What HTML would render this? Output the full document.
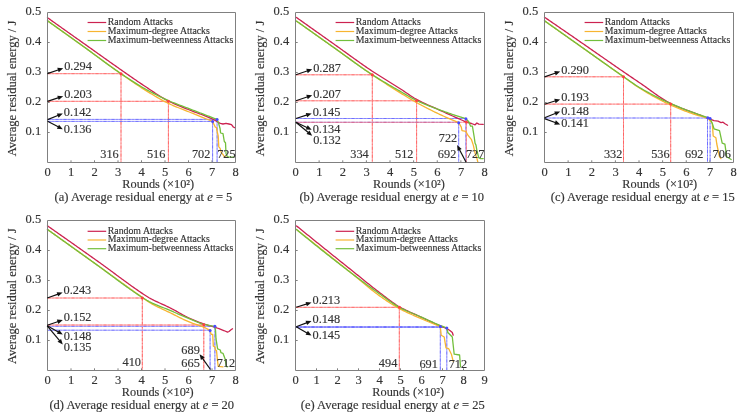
<!DOCTYPE html><html><head><meta charset="utf-8"><style>html,body{margin:0;padding:0;background:#fff;overflow:hidden}svg{display:block;will-change:transform}</style></head><body>
<svg width="741" height="416" viewBox="0 0 741 416" font-family="Liberation Serif, serif" fill="#333333" stroke-linejoin="round">
<style>text{stroke:#333;stroke-width:0.15px}</style>
<rect width="741" height="416" fill="#fff"/>
<line x1="47.50" y1="73.70" x2="121.00" y2="73.70" stroke="#ff8a8a" stroke-width="1"/>
<line x1="47.50" y1="73.70" x2="121.00" y2="73.70" stroke="#ff4040" stroke-width="1" stroke-dasharray="3 2 1 2" opacity="0.5"/>
<line x1="121.00" y1="73.70" x2="121.00" y2="162.50" stroke="#ff8a8a" stroke-width="1"/>
<line x1="121.00" y1="73.70" x2="121.00" y2="162.50" stroke="#ff4040" stroke-width="1" stroke-dasharray="3 2 1 2" opacity="0.5"/>
<line x1="47.50" y1="101.30" x2="168.40" y2="101.30" stroke="#ff8a8a" stroke-width="1"/>
<line x1="47.50" y1="101.30" x2="168.40" y2="101.30" stroke="#ff4040" stroke-width="1" stroke-dasharray="3 2 1 2" opacity="0.5"/>
<line x1="168.40" y1="101.30" x2="168.40" y2="162.50" stroke="#ff8a8a" stroke-width="1"/>
<line x1="168.40" y1="101.30" x2="168.40" y2="162.50" stroke="#ff4040" stroke-width="1" stroke-dasharray="3 2 1 2" opacity="0.5"/>
<line x1="47.50" y1="119.40" x2="217.10" y2="119.40" stroke="#9a9aff" stroke-width="1"/>
<line x1="47.50" y1="119.40" x2="217.10" y2="119.40" stroke="#4848ff" stroke-width="1" stroke-dasharray="3 2 1 2" opacity="0.5"/>
<line x1="217.10" y1="119.40" x2="217.10" y2="162.50" stroke="#9a9aff" stroke-width="1"/>
<line x1="217.10" y1="119.40" x2="217.10" y2="162.50" stroke="#4848ff" stroke-width="1" stroke-dasharray="3 2 1 2" opacity="0.5"/>
<line x1="47.50" y1="121.40" x2="212.60" y2="121.40" stroke="#9a9aff" stroke-width="1"/>
<line x1="47.50" y1="121.40" x2="212.60" y2="121.40" stroke="#4848ff" stroke-width="1" stroke-dasharray="3 2 1 2" opacity="0.5"/>
<line x1="212.60" y1="121.40" x2="212.60" y2="162.50" stroke="#9a9aff" stroke-width="1"/>
<line x1="212.60" y1="121.40" x2="212.60" y2="162.50" stroke="#4848ff" stroke-width="1" stroke-dasharray="3 2 1 2" opacity="0.5"/>
<path d="M47.50,17.70 L48.70,18.55 L49.90,19.40 L51.09,20.25 L52.29,21.10 L53.49,21.96 L54.69,22.81 L55.89,23.66 L57.08,24.51 L58.28,25.36 L59.48,26.21 L60.68,27.06 L61.87,27.91 L63.07,28.76 L64.27,29.61 L65.47,30.46 L66.67,31.31 L67.86,32.16 L69.06,33.01 L70.26,33.86 L71.46,34.71 L72.66,35.56 L73.85,36.41 L75.05,37.26 L76.25,38.11 L77.45,38.96 L78.65,39.81 L79.84,40.65 L81.04,41.50 L82.24,42.35 L83.44,43.20 L84.63,44.05 L85.83,44.90 L87.03,45.75 L88.23,46.60 L89.43,47.45 L90.62,48.30 L91.82,49.15 L93.02,50.01 L94.22,50.86 L95.42,51.71 L96.61,52.56 L97.81,53.42 L99.01,54.27 L100.21,55.12 L101.41,55.97 L102.60,56.82 L103.80,57.67 L105.00,58.53 L106.20,59.38 L107.40,60.23 L108.59,61.07 L109.79,61.92 L110.99,62.77 L112.19,63.62 L113.38,64.46 L114.58,65.31 L115.78,66.15 L116.98,66.99 L118.18,67.83 L119.37,68.67 L120.57,69.51 L121.77,70.35 L122.97,71.19 L124.17,72.02 L125.36,72.85 L126.56,73.69 L127.76,74.52 L128.96,75.35 L130.16,76.19 L131.35,77.02 L132.55,77.85 L133.75,78.68 L134.95,79.51 L136.14,80.33 L137.34,81.16 L138.54,81.97 L139.74,82.79 L140.94,83.60 L142.13,84.40 L143.33,85.20 L144.53,85.99 L145.73,86.78 L146.93,87.57 L148.12,88.37 L149.32,89.17 L150.52,89.98 L151.72,90.78 L152.92,91.59 L154.11,92.38 L155.31,93.18 L156.51,93.96 L157.71,94.74 L158.90,95.51 L160.10,96.26 L161.30,97.00 L162.50,97.73 L163.70,98.43 L164.89,99.12 L166.09,99.78 L167.29,100.43 L168.49,101.04 L169.69,101.64 L170.88,102.22 L172.08,102.78 L173.28,103.33 L174.48,103.86 L175.68,104.39 L176.87,104.90 L178.07,105.40 L179.27,105.89 L180.47,106.38 L181.67,106.87 L182.86,107.35 L184.06,107.82 L185.26,108.30 L186.46,108.77 L187.65,109.25 L188.85,109.73 L190.05,110.22 L191.25,110.70 L192.45,111.17 L193.64,111.62 L194.84,112.07 L196.04,112.51 L197.24,112.95 L198.44,113.38 L199.63,113.82 L200.83,114.25 L202.03,114.69 L203.23,115.14 L204.43,115.59 L205.62,116.06 L206.82,116.54 L208.02,117.03 L209.22,117.54 L210.41,118.07 L211.61,118.62 L212.81,119.20 L214.01,119.82 L215.21,120.48 L216.40,121.18 L217.60,121.88 L218.80,122.60 L220.30,123.40 L223.00,124.00 L226.00,123.40 L229.00,124.00 L231.50,124.60 L233.30,127.00 L234.50,127.60" fill="none" stroke="#cc2250" stroke-width="1.3" stroke-linejoin="round" stroke-linecap="round"/>
<path d="M47.50,20.80 L48.70,21.65 L49.89,22.50 L51.09,23.35 L52.29,24.20 L53.48,25.05 L54.68,25.91 L55.87,26.76 L57.07,27.61 L58.27,28.46 L59.46,29.32 L60.66,30.17 L61.86,31.03 L63.05,31.88 L64.25,32.74 L65.45,33.59 L66.64,34.45 L67.84,35.30 L69.03,36.16 L70.23,37.01 L71.43,37.87 L72.62,38.73 L73.82,39.59 L75.02,40.45 L76.21,41.30 L77.41,42.16 L78.61,43.02 L79.80,43.88 L81.00,44.74 L82.19,45.60 L83.39,46.46 L84.59,47.32 L85.78,48.19 L86.98,49.05 L88.18,49.92 L89.37,50.79 L90.57,51.66 L91.77,52.53 L92.96,53.41 L94.16,54.28 L95.36,55.16 L96.55,56.04 L97.75,56.91 L98.94,57.79 L100.14,58.67 L101.34,59.54 L102.53,60.42 L103.73,61.29 L104.93,62.17 L106.12,63.04 L107.32,63.91 L108.52,64.78 L109.71,65.65 L110.91,66.51 L112.10,67.38 L113.30,68.24 L114.50,69.10 L115.69,69.95 L116.89,70.80 L118.09,71.65 L119.28,72.49 L120.48,73.34 L121.68,74.17 L122.87,75.01 L124.07,75.85 L125.26,76.69 L126.46,77.53 L127.66,78.37 L128.85,79.21 L130.05,80.04 L131.25,80.87 L132.44,81.70 L133.64,82.52 L134.84,83.34 L136.03,84.16 L137.23,84.96 L138.42,85.76 L139.62,86.55 L140.82,87.34 L142.01,88.11 L143.21,88.88 L144.41,89.63 L145.60,90.37 L146.80,91.12 L148.00,91.86 L149.19,92.60 L150.39,93.33 L151.58,94.06 L152.78,94.79 L153.98,95.51 L155.17,96.22 L156.37,96.93 L157.57,97.62 L158.76,98.31 L159.96,98.99 L161.16,99.65 L162.35,100.31 L163.55,100.95 L164.74,101.58 L165.94,102.19 L167.14,102.79 L168.33,103.37 L169.53,103.93 L170.73,104.48 L171.92,105.02 L173.12,105.54 L174.32,106.05 L175.51,106.55 L176.71,107.04 L177.91,107.52 L179.10,108.00 L180.30,108.48 L181.49,108.94 L182.69,109.41 L183.89,109.88 L185.08,110.35 L186.28,110.81 L187.48,111.29 L188.67,111.76 L189.87,112.25 L191.07,112.73 L192.26,113.22 L193.46,113.71 L194.65,114.19 L195.85,114.68 L197.05,115.16 L198.24,115.64 L199.44,116.13 L200.64,116.61 L201.83,117.09 L203.03,117.57 L204.23,118.05 L205.42,118.53 L206.62,119.01 L207.81,119.49 L209.01,119.97 L210.21,120.45 L211.40,120.92 L212.60,121.40 L215.20,127.00 L216.40,127.60 L217.00,130.60 L218.20,136.00 L218.80,146.90 L220.00,148.10 L221.20,152.30 L223.00,154.70 L224.30,156.50 L226.00,157.10" fill="none" stroke="#f7b531" stroke-width="1.3" stroke-linejoin="round" stroke-linecap="round"/>
<path d="M47.50,20.80 L48.69,21.65 L49.89,22.50 L51.08,23.35 L52.28,24.20 L53.47,25.05 L54.67,25.90 L55.86,26.75 L57.05,27.60 L58.25,28.45 L59.44,29.30 L60.64,30.16 L61.83,31.01 L63.03,31.86 L64.22,32.72 L65.42,33.57 L66.61,34.42 L67.80,35.28 L69.00,36.13 L70.19,36.99 L71.39,37.84 L72.58,38.70 L73.78,39.56 L74.97,40.41 L76.16,41.27 L77.36,42.13 L78.55,42.98 L79.75,43.84 L80.94,44.70 L82.14,45.56 L83.33,46.42 L84.53,47.28 L85.72,48.14 L86.91,49.01 L88.11,49.88 L89.30,50.76 L90.50,51.64 L91.69,52.52 L92.89,53.40 L94.08,54.28 L95.27,55.17 L96.47,56.06 L97.66,56.94 L98.86,57.83 L100.05,58.72 L101.25,59.60 L102.44,60.49 L103.64,61.37 L104.83,62.25 L106.02,63.12 L107.22,64.00 L108.41,64.87 L109.61,65.73 L110.80,66.59 L112.00,67.45 L113.19,68.30 L114.38,69.15 L115.58,69.98 L116.77,70.82 L117.97,71.64 L119.16,72.46 L120.36,73.27 L121.55,74.07 L122.75,74.87 L123.94,75.66 L125.13,76.46 L126.33,77.25 L127.52,78.04 L128.72,78.82 L129.91,79.60 L131.11,80.37 L132.30,81.13 L133.49,81.90 L134.69,82.65 L135.88,83.40 L137.08,84.13 L138.27,84.86 L139.47,85.59 L140.66,86.30 L141.85,87.00 L143.05,87.69 L144.24,88.37 L145.44,89.04 L146.63,89.71 L147.83,90.37 L149.02,91.02 L150.22,91.66 L151.41,92.30 L152.60,92.94 L153.80,93.56 L154.99,94.18 L156.19,94.79 L157.38,95.40 L158.58,96.00 L159.77,96.59 L160.96,97.17 L162.16,97.74 L163.35,98.31 L164.55,98.86 L165.74,99.41 L166.94,99.95 L168.13,100.48 L169.33,101.00 L170.52,101.51 L171.71,102.01 L172.91,102.49 L174.10,102.97 L175.30,103.44 L176.49,103.91 L177.69,104.37 L178.88,104.82 L180.07,105.27 L181.27,105.72 L182.46,106.16 L183.66,106.61 L184.85,107.05 L186.05,107.50 L187.24,107.95 L188.44,108.40 L189.63,108.86 L190.82,109.32 L192.02,109.78 L193.21,110.24 L194.41,110.70 L195.60,111.16 L196.80,111.62 L197.99,112.08 L199.18,112.54 L200.38,113.00 L201.57,113.46 L202.77,113.92 L203.96,114.38 L205.16,114.83 L206.35,115.29 L207.55,115.75 L208.74,116.21 L209.93,116.66 L211.13,117.12 L212.32,117.58 L213.52,118.03 L214.71,118.49 L215.91,118.94 L217.10,119.40 L218.80,124.00 L220.00,128.20 L220.60,133.00 L223.00,133.70 L224.30,141.50 L225.50,142.70 L226.00,153.50 L227.30,156.50 L229.00,157.10 L233.90,157.10" fill="none" stroke="#72bf3c" stroke-width="1.3" stroke-linejoin="round" stroke-linecap="round"/>
<circle cx="121.00" cy="73.70" r="1.5" fill="#ff4040"/>
<circle cx="168.40" cy="101.30" r="1.5" fill="#ff4040"/>
<circle cx="212.60" cy="121.40" r="1.5" fill="#4848ff"/>
<circle cx="217.10" cy="119.40" r="1.5" fill="#4848ff"/>
<rect x="47.50" y="12.50" width="188.00" height="150.00" fill="none" stroke="#808080" stroke-width="1"/>
<line x1="71.00" y1="162.50" x2="71.00" y2="160.30" stroke="#808080" stroke-width="1"/>
<line x1="94.50" y1="162.50" x2="94.50" y2="160.30" stroke="#808080" stroke-width="1"/>
<line x1="118.00" y1="162.50" x2="118.00" y2="160.30" stroke="#808080" stroke-width="1"/>
<line x1="141.50" y1="162.50" x2="141.50" y2="160.30" stroke="#808080" stroke-width="1"/>
<line x1="165.00" y1="162.50" x2="165.00" y2="160.30" stroke="#808080" stroke-width="1"/>
<line x1="188.50" y1="162.50" x2="188.50" y2="160.30" stroke="#808080" stroke-width="1"/>
<line x1="212.00" y1="162.50" x2="212.00" y2="160.30" stroke="#808080" stroke-width="1"/>
<line x1="47.50" y1="132.50" x2="49.70" y2="132.50" stroke="#808080" stroke-width="1"/>
<line x1="47.50" y1="102.50" x2="49.70" y2="102.50" stroke="#808080" stroke-width="1"/>
<line x1="47.50" y1="72.50" x2="49.70" y2="72.50" stroke="#808080" stroke-width="1"/>
<line x1="47.50" y1="42.50" x2="49.70" y2="42.50" stroke="#808080" stroke-width="1"/>
<text x="47.70" y="175.50" text-anchor="middle" font-size="12.5">0</text>
<text x="71.20" y="175.50" text-anchor="middle" font-size="12.5">1</text>
<text x="94.70" y="175.50" text-anchor="middle" font-size="12.5">2</text>
<text x="118.20" y="175.50" text-anchor="middle" font-size="12.5">3</text>
<text x="141.70" y="175.50" text-anchor="middle" font-size="12.5">4</text>
<text x="165.20" y="175.50" text-anchor="middle" font-size="12.5">5</text>
<text x="188.70" y="175.50" text-anchor="middle" font-size="12.5">6</text>
<text x="212.20" y="175.50" text-anchor="middle" font-size="12.5">7</text>
<text x="235.70" y="175.50" text-anchor="middle" font-size="12.5">8</text>
<text x="41.20" y="134.50" text-anchor="end" font-size="12.5">0.1</text>
<text x="41.20" y="104.50" text-anchor="end" font-size="12.5">0.2</text>
<text x="41.20" y="74.50" text-anchor="end" font-size="12.5">0.3</text>
<text x="41.20" y="44.50" text-anchor="end" font-size="12.5">0.4</text>
<text x="41.20" y="14.50" text-anchor="end" font-size="12.5">0.5</text>
<line x1="87.60" y1="22.50" x2="106.20" y2="22.50" stroke="#cc2250" stroke-width="1.2"/>
<text x="107.80" y="24.90" font-size="9.8">Random Attacks</text>
<line x1="87.60" y1="31.50" x2="106.20" y2="31.50" stroke="#f7b531" stroke-width="1.2"/>
<text x="107.80" y="33.90" font-size="9.8">Maximum-degree Attacks</text>
<line x1="87.60" y1="40.50" x2="106.20" y2="40.50" stroke="#72bf3c" stroke-width="1.2"/>
<text x="107.80" y="42.90" font-size="9.8">Maximum-betweenness Attacks</text>
<line x1="47.40" y1="73.60" x2="58.75" y2="69.72" stroke="#111" stroke-width="1.2"/>
<polygon points="63.20,68.20 58.74,72.16 57.25,67.80" fill="#111"/>
<text x="64.20" y="70.30" text-anchor="start" font-size="12.3">0.294</text>
<line x1="47.40" y1="101.40" x2="58.74" y2="97.67" stroke="#111" stroke-width="1.2"/>
<polygon points="63.20,96.20 58.69,100.10 57.26,95.73" fill="#111"/>
<text x="64.20" y="97.60" text-anchor="start" font-size="12.3">0.203</text>
<line x1="47.60" y1="119.60" x2="58.44" y2="115.25" stroke="#111" stroke-width="1.2"/>
<polygon points="62.80,113.50 58.55,117.68 56.84,113.41" fill="#111"/>
<text x="63.80" y="115.60" text-anchor="start" font-size="12.3">0.142</text>
<line x1="47.60" y1="121.20" x2="58.65" y2="127.09" stroke="#111" stroke-width="1.2"/>
<polygon points="62.80,129.30 56.86,128.74 59.03,124.68" fill="#111"/>
<text x="63.80" y="133.40" text-anchor="start" font-size="12.3">0.136</text>
<text x="118.70" y="157.80" text-anchor="end" font-size="12.3">316</text>
<text x="165.40" y="157.80" text-anchor="end" font-size="12.3">516</text>
<text x="210.40" y="157.80" text-anchor="end" font-size="12.3">702</text>
<text x="217.20" y="157.80" text-anchor="start" font-size="12.3">725</text>
<text transform="translate(16.30,88.50) rotate(-90)" text-anchor="middle" font-size="12.5">Average residual energy / J</text>
<text x="122.30" y="187.50" font-size="12.3">Rounds (×10²)</text>
<text x="54.60" y="201.00" font-size="12.5">(a) Average residual energy at <tspan font-style="italic">e</tspan> = 5</text>
<line x1="295.50" y1="74.80" x2="372.30" y2="74.80" stroke="#ff8a8a" stroke-width="1"/>
<line x1="295.50" y1="74.80" x2="372.30" y2="74.80" stroke="#ff4040" stroke-width="1" stroke-dasharray="3 2 1 2" opacity="0.5"/>
<line x1="372.30" y1="74.80" x2="372.30" y2="162.50" stroke="#ff8a8a" stroke-width="1"/>
<line x1="372.30" y1="74.80" x2="372.30" y2="162.50" stroke="#ff4040" stroke-width="1" stroke-dasharray="3 2 1 2" opacity="0.5"/>
<line x1="295.50" y1="100.80" x2="416.60" y2="100.80" stroke="#ff8a8a" stroke-width="1"/>
<line x1="295.50" y1="100.80" x2="416.60" y2="100.80" stroke="#ff4040" stroke-width="1" stroke-dasharray="3 2 1 2" opacity="0.5"/>
<line x1="416.60" y1="100.80" x2="416.60" y2="162.50" stroke="#ff8a8a" stroke-width="1"/>
<line x1="416.60" y1="100.80" x2="416.60" y2="162.50" stroke="#ff4040" stroke-width="1" stroke-dasharray="3 2 1 2" opacity="0.5"/>
<line x1="295.50" y1="118.50" x2="465.90" y2="118.50" stroke="#9a9aff" stroke-width="1"/>
<line x1="295.50" y1="118.50" x2="465.90" y2="118.50" stroke="#4848ff" stroke-width="1" stroke-dasharray="3 2 1 2" opacity="0.5"/>
<line x1="465.90" y1="118.50" x2="465.90" y2="162.50" stroke="#9a9aff" stroke-width="1"/>
<line x1="465.90" y1="118.50" x2="465.90" y2="162.50" stroke="#4848ff" stroke-width="1" stroke-dasharray="3 2 1 2" opacity="0.5"/>
<line x1="295.50" y1="122.30" x2="458.70" y2="122.30" stroke="#9a9aff" stroke-width="1"/>
<line x1="295.50" y1="122.30" x2="458.70" y2="122.30" stroke="#4848ff" stroke-width="1" stroke-dasharray="3 2 1 2" opacity="0.5"/>
<line x1="458.70" y1="122.30" x2="458.70" y2="162.50" stroke="#9a9aff" stroke-width="1"/>
<line x1="458.70" y1="122.30" x2="458.70" y2="162.50" stroke="#4848ff" stroke-width="1" stroke-dasharray="3 2 1 2" opacity="0.5"/>
<g opacity="0.75">
<line x1="295.50" y1="122.30" x2="466.40" y2="122.30" stroke="#ff8a8a" stroke-width="1"/>
<line x1="295.50" y1="122.30" x2="466.40" y2="122.30" stroke="#ff4040" stroke-width="1" stroke-dasharray="3 2 1 2" opacity="0.5"/>
<line x1="466.40" y1="122.30" x2="466.40" y2="162.50" stroke="#ff8a8a" stroke-width="1"/>
<line x1="466.40" y1="122.30" x2="466.40" y2="162.50" stroke="#ff4040" stroke-width="1" stroke-dasharray="3 2 1 2" opacity="0.5"/>
</g>
<path d="M296.50,17.50 L297.70,18.35 L298.89,19.20 L300.09,20.05 L301.29,20.90 L302.48,21.75 L303.68,22.60 L304.88,23.45 L306.07,24.30 L307.27,25.15 L308.46,26.00 L309.66,26.85 L310.86,27.70 L312.05,28.55 L313.25,29.40 L314.45,30.25 L315.64,31.10 L316.84,31.95 L318.04,32.80 L319.23,33.65 L320.43,34.50 L321.63,35.34 L322.82,36.19 L324.02,37.04 L325.22,37.89 L326.41,38.74 L327.61,39.59 L328.80,40.44 L330.00,41.28 L331.20,42.13 L332.39,42.98 L333.59,43.83 L334.79,44.67 L335.98,45.52 L337.18,46.38 L338.38,47.23 L339.57,48.09 L340.77,48.95 L341.97,49.81 L343.16,50.67 L344.36,51.53 L345.56,52.40 L346.75,53.26 L347.95,54.12 L349.15,54.99 L350.34,55.85 L351.54,56.71 L352.73,57.57 L353.93,58.43 L355.13,59.29 L356.32,60.14 L357.52,60.99 L358.72,61.84 L359.91,62.69 L361.11,63.53 L362.31,64.37 L363.50,65.21 L364.70,66.04 L365.90,66.87 L367.09,67.69 L368.29,68.50 L369.49,69.32 L370.68,70.12 L371.88,70.92 L373.07,71.71 L374.27,72.50 L375.47,73.27 L376.66,74.04 L377.86,74.81 L379.06,75.57 L380.25,76.32 L381.45,77.07 L382.65,77.81 L383.84,78.56 L385.04,79.30 L386.24,80.03 L387.43,80.77 L388.63,81.51 L389.83,82.24 L391.02,82.98 L392.22,83.72 L393.41,84.46 L394.61,85.20 L395.81,85.95 L397.00,86.70 L398.20,87.45 L399.40,88.21 L400.59,88.98 L401.79,89.77 L402.99,90.57 L404.18,91.38 L405.38,92.20 L406.58,93.01 L407.77,93.83 L408.97,94.64 L410.17,95.45 L411.36,96.23 L412.56,97.00 L413.75,97.75 L414.95,98.46 L416.15,99.15 L417.34,99.80 L418.54,100.44 L419.74,101.06 L420.93,101.66 L422.13,102.25 L423.33,102.83 L424.52,103.39 L425.72,103.95 L426.92,104.49 L428.11,105.03 L429.31,105.57 L430.51,106.10 L431.70,106.62 L432.90,107.15 L434.10,107.67 L435.29,108.20 L436.49,108.72 L437.68,109.26 L438.88,109.79 L440.08,110.34 L441.27,110.88 L442.47,111.43 L443.67,111.97 L444.86,112.51 L446.06,113.05 L447.26,113.59 L448.45,114.13 L449.65,114.67 L450.85,115.21 L452.04,115.75 L453.24,116.28 L454.44,116.82 L455.63,117.35 L456.83,117.88 L458.02,118.41 L459.22,118.94 L460.42,119.47 L461.61,120.00 L462.81,120.53 L464.01,121.05 L465.20,121.58 L466.40,122.10 L471.50,123.50 L475.10,124.80 L476.90,123.00 L478.70,124.10 L483.20,124.40" fill="none" stroke="#cc2250" stroke-width="1.3" stroke-linejoin="round" stroke-linecap="round"/>
<path d="M296.50,21.10 L297.69,21.94 L298.89,22.79 L300.08,23.63 L301.27,24.48 L302.46,25.32 L303.66,26.17 L304.85,27.01 L306.04,27.86 L307.23,28.70 L308.43,29.55 L309.62,30.39 L310.81,31.24 L312.00,32.08 L313.20,32.93 L314.39,33.77 L315.58,34.62 L316.77,35.46 L317.97,36.31 L319.16,37.15 L320.35,38.00 L321.55,38.84 L322.74,39.69 L323.93,40.53 L325.12,41.38 L326.32,42.22 L327.51,43.07 L328.70,43.91 L329.89,44.76 L331.09,45.60 L332.28,46.45 L333.47,47.29 L334.66,48.14 L335.86,48.98 L337.05,49.83 L338.24,50.68 L339.44,51.54 L340.63,52.39 L341.82,53.25 L343.01,54.10 L344.21,54.96 L345.40,55.82 L346.59,56.68 L347.78,57.54 L348.98,58.39 L350.17,59.25 L351.36,60.11 L352.55,60.97 L353.75,61.82 L354.94,62.68 L356.13,63.53 L357.32,64.38 L358.52,65.23 L359.71,66.07 L360.90,66.92 L362.10,67.76 L363.29,68.59 L364.48,69.43 L365.67,70.26 L366.87,71.09 L368.06,71.91 L369.25,72.73 L370.44,73.54 L371.64,74.35 L372.83,75.16 L374.02,75.96 L375.21,76.76 L376.41,77.55 L377.60,78.35 L378.79,79.14 L379.99,79.92 L381.18,80.71 L382.37,81.49 L383.56,82.27 L384.76,83.04 L385.95,83.81 L387.14,84.58 L388.33,85.35 L389.53,86.11 L390.72,86.88 L391.91,87.63 L393.10,88.39 L394.30,89.14 L395.49,89.89 L396.68,90.64 L397.88,91.38 L399.07,92.12 L400.26,92.86 L401.45,93.60 L402.65,94.33 L403.84,95.07 L405.03,95.80 L406.22,96.53 L407.42,97.25 L408.61,97.97 L409.80,98.69 L410.99,99.39 L412.19,100.09 L413.38,100.78 L414.57,101.47 L415.76,102.14 L416.96,102.80 L418.15,103.45 L419.34,104.10 L420.54,104.74 L421.73,105.38 L422.92,106.01 L424.11,106.63 L425.31,107.25 L426.50,107.87 L427.69,108.48 L428.88,109.09 L430.08,109.69 L431.27,110.28 L432.46,110.87 L433.65,111.46 L434.85,112.04 L436.04,112.62 L437.23,113.19 L438.43,113.76 L439.62,114.32 L440.81,114.88 L442.00,115.43 L443.20,115.98 L444.39,116.53 L445.58,117.07 L446.77,117.60 L447.97,118.14 L449.16,118.66 L450.35,119.18 L451.54,119.70 L452.74,120.21 L453.93,120.72 L455.12,121.22 L456.31,121.72 L457.51,122.21 L458.70,122.70 L461.30,127.10 L462.00,130.70 L465.80,131.30 L467.90,135.20 L471.50,139.70 L473.30,145.10 L475.10,153.20 L477.00,158.60 L477.80,162.00" fill="none" stroke="#f7b531" stroke-width="1.3" stroke-linejoin="round" stroke-linecap="round"/>
<path d="M296.50,21.10 L297.69,21.95 L298.89,22.79 L300.08,23.64 L301.27,24.48 L302.46,25.33 L303.66,26.17 L304.85,27.02 L306.04,27.86 L307.24,28.71 L308.43,29.55 L309.62,30.40 L310.82,31.24 L312.01,32.09 L313.20,32.93 L314.39,33.78 L315.59,34.62 L316.78,35.47 L317.97,36.31 L319.17,37.16 L320.36,38.00 L321.55,38.85 L322.75,39.69 L323.94,40.54 L325.13,41.38 L326.32,42.23 L327.52,43.07 L328.71,43.92 L329.90,44.76 L331.10,45.61 L332.29,46.45 L333.48,47.30 L334.67,48.14 L335.87,48.99 L337.06,49.85 L338.25,50.70 L339.45,51.56 L340.64,52.43 L341.83,53.29 L343.03,54.16 L344.22,55.03 L345.41,55.90 L346.60,56.77 L347.80,57.64 L348.99,58.52 L350.18,59.39 L351.38,60.26 L352.57,61.12 L353.76,61.99 L354.95,62.85 L356.15,63.71 L357.34,64.57 L358.53,65.42 L359.73,66.27 L360.92,67.11 L362.11,67.94 L363.31,68.78 L364.50,69.60 L365.69,70.42 L366.88,71.23 L368.08,72.03 L369.27,72.82 L370.46,73.61 L371.66,74.39 L372.85,75.15 L374.04,75.91 L375.24,76.66 L376.43,77.40 L377.62,78.14 L378.81,78.87 L380.01,79.59 L381.20,80.31 L382.39,81.02 L383.59,81.73 L384.78,82.43 L385.97,83.13 L387.16,83.83 L388.36,84.52 L389.55,85.21 L390.74,85.90 L391.94,86.58 L393.13,87.27 L394.32,87.95 L395.52,88.63 L396.71,89.31 L397.90,90.00 L399.09,90.68 L400.29,91.37 L401.48,92.06 L402.67,92.76 L403.87,93.46 L405.06,94.16 L406.25,94.86 L407.45,95.56 L408.64,96.25 L409.83,96.93 L411.02,97.60 L412.22,98.26 L413.41,98.90 L414.60,99.52 L415.80,100.11 L416.99,100.68 L418.18,101.24 L419.37,101.79 L420.57,102.32 L421.76,102.85 L422.95,103.36 L424.15,103.87 L425.34,104.36 L426.53,104.85 L427.73,105.33 L428.92,105.81 L430.11,106.28 L431.30,106.74 L432.50,107.20 L433.69,107.65 L434.88,108.10 L436.08,108.55 L437.27,108.99 L438.46,109.43 L439.65,109.87 L440.85,110.31 L442.04,110.75 L443.23,111.18 L444.43,111.61 L445.62,112.03 L446.81,112.46 L448.01,112.88 L449.20,113.29 L450.39,113.70 L451.58,114.11 L452.78,114.52 L453.97,114.92 L455.16,115.31 L456.36,115.71 L457.55,116.10 L458.74,116.48 L459.94,116.86 L461.13,117.24 L462.32,117.61 L463.51,117.98 L464.71,118.34 L465.90,118.70 L468.80,121.70 L470.60,126.20 L472.40,126.20 L474.20,137.00 L475.10,143.30 L476.00,145.10 L476.90,150.50 L478.70,157.70 L480.50,158.60 L483.20,158.60" fill="none" stroke="#72bf3c" stroke-width="1.3" stroke-linejoin="round" stroke-linecap="round"/>
<circle cx="372.30" cy="74.80" r="1.5" fill="#ff4040"/>
<circle cx="416.60" cy="100.80" r="1.5" fill="#ff4040"/>
<circle cx="466.40" cy="122.10" r="1.5" fill="#ff4040"/>
<circle cx="458.70" cy="122.70" r="1.5" fill="#4848ff"/>
<circle cx="465.90" cy="118.70" r="1.5" fill="#4848ff"/>
<rect x="295.50" y="12.50" width="189.00" height="150.00" fill="none" stroke="#808080" stroke-width="1"/>
<line x1="319.12" y1="162.50" x2="319.12" y2="160.30" stroke="#808080" stroke-width="1"/>
<line x1="342.75" y1="162.50" x2="342.75" y2="160.30" stroke="#808080" stroke-width="1"/>
<line x1="366.38" y1="162.50" x2="366.38" y2="160.30" stroke="#808080" stroke-width="1"/>
<line x1="390.00" y1="162.50" x2="390.00" y2="160.30" stroke="#808080" stroke-width="1"/>
<line x1="413.62" y1="162.50" x2="413.62" y2="160.30" stroke="#808080" stroke-width="1"/>
<line x1="437.25" y1="162.50" x2="437.25" y2="160.30" stroke="#808080" stroke-width="1"/>
<line x1="460.88" y1="162.50" x2="460.88" y2="160.30" stroke="#808080" stroke-width="1"/>
<line x1="295.50" y1="132.50" x2="297.70" y2="132.50" stroke="#808080" stroke-width="1"/>
<line x1="295.50" y1="102.50" x2="297.70" y2="102.50" stroke="#808080" stroke-width="1"/>
<line x1="295.50" y1="72.50" x2="297.70" y2="72.50" stroke="#808080" stroke-width="1"/>
<line x1="295.50" y1="42.50" x2="297.70" y2="42.50" stroke="#808080" stroke-width="1"/>
<text x="295.70" y="175.50" text-anchor="middle" font-size="12.5">0</text>
<text x="319.32" y="175.50" text-anchor="middle" font-size="12.5">1</text>
<text x="342.95" y="175.50" text-anchor="middle" font-size="12.5">2</text>
<text x="366.57" y="175.50" text-anchor="middle" font-size="12.5">3</text>
<text x="390.20" y="175.50" text-anchor="middle" font-size="12.5">4</text>
<text x="413.82" y="175.50" text-anchor="middle" font-size="12.5">5</text>
<text x="437.45" y="175.50" text-anchor="middle" font-size="12.5">6</text>
<text x="461.07" y="175.50" text-anchor="middle" font-size="12.5">7</text>
<text x="484.70" y="175.50" text-anchor="middle" font-size="12.5">8</text>
<text x="289.20" y="134.50" text-anchor="end" font-size="12.5">0.1</text>
<text x="289.20" y="104.50" text-anchor="end" font-size="12.5">0.2</text>
<text x="289.20" y="74.50" text-anchor="end" font-size="12.5">0.3</text>
<text x="289.20" y="44.50" text-anchor="end" font-size="12.5">0.4</text>
<text x="289.20" y="14.50" text-anchor="end" font-size="12.5">0.5</text>
<line x1="335.60" y1="22.50" x2="354.20" y2="22.50" stroke="#cc2250" stroke-width="1.2"/>
<text x="355.80" y="24.90" font-size="9.8">Random Attacks</text>
<line x1="335.60" y1="31.50" x2="354.20" y2="31.50" stroke="#f7b531" stroke-width="1.2"/>
<text x="355.80" y="33.90" font-size="9.8">Maximum-degree Attacks</text>
<line x1="335.60" y1="40.50" x2="354.20" y2="40.50" stroke="#72bf3c" stroke-width="1.2"/>
<text x="355.80" y="42.90" font-size="9.8">Maximum-betweenness Attacks</text>
<line x1="295.90" y1="74.80" x2="307.76" y2="70.73" stroke="#111" stroke-width="1.2"/>
<polygon points="312.20,69.20 307.75,73.16 306.25,68.81" fill="#111"/>
<text x="313.20" y="72.20" text-anchor="start" font-size="12.3">0.287</text>
<line x1="295.90" y1="100.80" x2="307.76" y2="96.73" stroke="#111" stroke-width="1.2"/>
<polygon points="312.20,95.20 307.75,99.16 306.25,94.81" fill="#111"/>
<text x="313.20" y="97.60" text-anchor="start" font-size="12.3">0.207</text>
<line x1="295.90" y1="118.50" x2="307.23" y2="114.84" stroke="#111" stroke-width="1.2"/>
<polygon points="311.70,113.40 307.17,117.28 305.76,112.90" fill="#111"/>
<text x="312.70" y="115.50" text-anchor="start" font-size="12.3">0.145</text>
<line x1="295.90" y1="122.30" x2="307.44" y2="127.71" stroke="#111" stroke-width="1.2"/>
<polygon points="311.70,129.70 305.74,129.45 307.69,125.28" fill="#111"/>
<text x="312.70" y="133.30" text-anchor="start" font-size="12.3">0.134</text>
<line x1="295.90" y1="122.30" x2="308.58" y2="132.80" stroke="#111" stroke-width="1.2"/>
<polygon points="312.20,135.80 306.50,134.06 309.43,130.52" fill="#111"/>
<text x="313.20" y="143.50" text-anchor="start" font-size="12.3">0.132</text>
<text x="368.70" y="158.40" text-anchor="end" font-size="12.3">334</text>
<text x="413.50" y="158.40" text-anchor="end" font-size="12.3">512</text>
<text x="456.30" y="158.40" text-anchor="end" font-size="12.3">692</text>
<text x="457.20" y="142.30" text-anchor="end" font-size="12.3">722</text>
<text x="465.90" y="158.40" text-anchor="start" font-size="12.3">727</text>
<line x1="466.10" y1="162.30" x2="459.28" y2="149.26" stroke="#111" stroke-width="1.2"/>
<polygon points="457.10,145.10 461.69,148.91 457.61,151.04" fill="#111"/>
<text transform="translate(264.10,88.50) rotate(-90)" text-anchor="middle" font-size="12.5">Average residual energy / J</text>
<text x="373.10" y="187.50" font-size="12.3">Rounds (×10²)</text>
<text x="299.40" y="201.00" font-size="12.5">(b) Average residual energy at <tspan font-style="italic">e</tspan> = 10</text>
<line x1="544.50" y1="76.80" x2="623.50" y2="76.80" stroke="#ff8a8a" stroke-width="1"/>
<line x1="544.50" y1="76.80" x2="623.50" y2="76.80" stroke="#ff4040" stroke-width="1" stroke-dasharray="3 2 1 2" opacity="0.5"/>
<line x1="623.50" y1="76.80" x2="623.50" y2="162.50" stroke="#ff8a8a" stroke-width="1"/>
<line x1="623.50" y1="76.80" x2="623.50" y2="162.50" stroke="#ff4040" stroke-width="1" stroke-dasharray="3 2 1 2" opacity="0.5"/>
<line x1="544.50" y1="104.10" x2="670.70" y2="104.10" stroke="#ff8a8a" stroke-width="1"/>
<line x1="544.50" y1="104.10" x2="670.70" y2="104.10" stroke="#ff4040" stroke-width="1" stroke-dasharray="3 2 1 2" opacity="0.5"/>
<line x1="670.70" y1="104.10" x2="670.70" y2="162.50" stroke="#ff8a8a" stroke-width="1"/>
<line x1="670.70" y1="104.10" x2="670.70" y2="162.50" stroke="#ff4040" stroke-width="1" stroke-dasharray="3 2 1 2" opacity="0.5"/>
<line x1="544.50" y1="118.00" x2="710.10" y2="118.00" stroke="#9a9aff" stroke-width="1"/>
<line x1="544.50" y1="118.00" x2="710.10" y2="118.00" stroke="#4848ff" stroke-width="1" stroke-dasharray="3 2 1 2" opacity="0.5"/>
<line x1="710.10" y1="118.00" x2="710.10" y2="162.50" stroke="#9a9aff" stroke-width="1"/>
<line x1="710.10" y1="118.00" x2="710.10" y2="162.50" stroke="#4848ff" stroke-width="1" stroke-dasharray="3 2 1 2" opacity="0.5"/>
<line x1="707.50" y1="118.00" x2="707.50" y2="162.50" stroke="#9a9aff" stroke-width="1"/>
<line x1="707.50" y1="118.00" x2="707.50" y2="162.50" stroke="#4848ff" stroke-width="1" stroke-dasharray="3 2 1 2" opacity="0.5"/>
<path d="M544.50,17.20 L545.69,18.02 L546.89,18.84 L548.08,19.66 L549.27,20.48 L550.47,21.30 L551.66,22.12 L552.85,22.94 L554.05,23.76 L555.24,24.58 L556.43,25.40 L557.63,26.22 L558.82,27.04 L560.01,27.86 L561.21,28.68 L562.40,29.50 L563.59,30.32 L564.79,31.15 L565.98,31.97 L567.18,32.79 L568.37,33.61 L569.56,34.43 L570.76,35.26 L571.95,36.08 L573.14,36.90 L574.34,37.73 L575.53,38.55 L576.72,39.37 L577.92,40.20 L579.11,41.02 L580.30,41.85 L581.50,42.67 L582.69,43.49 L583.88,44.32 L585.08,45.14 L586.27,45.97 L587.46,46.80 L588.66,47.63 L589.85,48.45 L591.04,49.28 L592.24,50.11 L593.43,50.94 L594.62,51.77 L595.82,52.60 L597.01,53.43 L598.20,54.27 L599.40,55.10 L600.59,55.93 L601.78,56.76 L602.98,57.59 L604.17,58.42 L605.36,59.25 L606.56,60.08 L607.75,60.91 L608.95,61.74 L610.14,62.57 L611.33,63.40 L612.53,64.23 L613.72,65.06 L614.91,65.88 L616.11,66.71 L617.30,67.53 L618.49,68.36 L619.69,69.18 L620.88,70.00 L622.07,70.82 L623.27,71.64 L624.46,72.46 L625.65,73.27 L626.85,74.09 L628.04,74.90 L629.23,75.71 L630.43,76.53 L631.62,77.34 L632.81,78.14 L634.01,78.95 L635.20,79.76 L636.39,80.57 L637.59,81.37 L638.78,82.18 L639.97,82.98 L641.17,83.79 L642.36,84.62 L643.55,85.45 L644.75,86.30 L645.94,87.15 L647.14,88.01 L648.33,88.87 L649.52,89.74 L650.72,90.60 L651.91,91.46 L653.10,92.33 L654.30,93.18 L655.49,94.03 L656.68,94.87 L657.88,95.70 L659.07,96.52 L660.26,97.33 L661.46,98.11 L662.65,98.89 L663.84,99.64 L665.04,100.37 L666.23,101.08 L667.42,101.76 L668.62,102.42 L669.81,103.05 L671.00,103.65 L672.20,104.23 L673.39,104.79 L674.58,105.33 L675.78,105.86 L676.97,106.37 L678.16,106.87 L679.36,107.35 L680.55,107.83 L681.74,108.30 L682.94,108.75 L684.13,109.20 L685.32,109.65 L686.52,110.09 L687.71,110.52 L688.91,110.96 L690.10,111.39 L691.29,111.82 L692.49,112.26 L693.68,112.70 L694.87,113.14 L696.07,113.58 L697.26,114.03 L698.45,114.49 L699.65,114.96 L700.84,115.43 L702.03,115.91 L703.23,116.39 L704.42,116.87 L705.61,117.34 L706.81,117.82 L708.00,118.30 L714.00,120.60 L718.00,121.20 L721.00,122.60 L723.00,122.20 L725.00,123.80 L727.60,125.20" fill="none" stroke="#cc2250" stroke-width="1.3" stroke-linejoin="round" stroke-linecap="round"/>
<path d="M544.50,20.80 L545.69,21.64 L546.88,22.49 L548.08,23.33 L549.27,24.17 L550.46,25.02 L551.65,25.86 L552.84,26.70 L554.04,27.55 L555.23,28.39 L556.42,29.23 L557.61,30.08 L558.80,30.92 L560.00,31.76 L561.19,32.61 L562.38,33.45 L563.57,34.29 L564.76,35.14 L565.96,35.98 L567.15,36.83 L568.34,37.67 L569.53,38.51 L570.72,39.36 L571.92,40.20 L573.11,41.04 L574.30,41.89 L575.49,42.73 L576.68,43.57 L577.88,44.42 L579.07,45.26 L580.26,46.10 L581.45,46.95 L582.64,47.79 L583.84,48.63 L585.03,49.48 L586.22,50.32 L587.41,51.16 L588.60,52.01 L589.79,52.85 L590.99,53.69 L592.18,54.54 L593.37,55.38 L594.56,56.22 L595.75,57.07 L596.95,57.91 L598.14,58.75 L599.33,59.59 L600.52,60.44 L601.71,61.28 L602.91,62.12 L604.10,62.97 L605.29,63.81 L606.48,64.65 L607.67,65.50 L608.87,66.34 L610.06,67.18 L611.25,68.03 L612.44,68.87 L613.63,69.71 L614.83,70.56 L616.02,71.40 L617.21,72.25 L618.40,73.09 L619.59,73.93 L620.79,74.78 L621.98,75.62 L623.17,76.47 L624.36,77.31 L625.55,78.17 L626.75,79.05 L627.94,79.92 L629.13,80.80 L630.32,81.68 L631.51,82.56 L632.71,83.42 L633.90,84.28 L635.09,85.13 L636.28,85.96 L637.47,86.77 L638.67,87.55 L639.86,88.31 L641.05,89.05 L642.24,89.78 L643.43,90.51 L644.63,91.23 L645.82,91.94 L647.01,92.65 L648.20,93.35 L649.39,94.04 L650.59,94.73 L651.78,95.41 L652.97,96.07 L654.16,96.74 L655.35,97.39 L656.55,98.04 L657.74,98.67 L658.93,99.30 L660.12,99.92 L661.31,100.53 L662.51,101.13 L663.70,101.72 L664.89,102.31 L666.08,102.88 L667.27,103.44 L668.46,103.99 L669.66,104.53 L670.85,105.07 L672.04,105.59 L673.23,106.11 L674.42,106.63 L675.62,107.14 L676.81,107.65 L678.00,108.16 L679.19,108.65 L680.38,109.15 L681.58,109.63 L682.77,110.11 L683.96,110.58 L685.15,111.04 L686.34,111.50 L687.54,111.95 L688.73,112.38 L689.92,112.81 L691.11,113.23 L692.30,113.64 L693.50,114.04 L694.69,114.42 L695.88,114.80 L697.07,115.16 L698.26,115.51 L699.46,115.85 L700.65,116.17 L701.84,116.48 L703.03,116.77 L704.22,117.04 L705.42,117.31 L706.61,117.56 L707.80,117.80 L710.00,120.50 L712.30,123.40 L713.20,136.00 L715.90,137.80 L716.80,144.00 L719.50,156.80 L721.00,158.50" fill="none" stroke="#f7b531" stroke-width="1.3" stroke-linejoin="round" stroke-linecap="round"/>
<path d="M544.50,20.80 L545.69,21.64 L546.88,22.49 L548.07,23.33 L549.27,24.17 L550.46,25.02 L551.65,25.86 L552.84,26.70 L554.03,27.54 L555.22,28.39 L556.41,29.23 L557.61,30.07 L558.80,30.92 L559.99,31.76 L561.18,32.60 L562.37,33.45 L563.56,34.29 L564.75,35.13 L565.94,35.97 L567.14,36.82 L568.33,37.66 L569.52,38.50 L570.71,39.35 L571.90,40.19 L573.09,41.03 L574.28,41.88 L575.48,42.72 L576.67,43.56 L577.86,44.40 L579.05,45.25 L580.24,46.09 L581.43,46.93 L582.62,47.78 L583.82,48.62 L585.01,49.46 L586.20,50.31 L587.39,51.15 L588.58,52.00 L589.77,52.85 L590.96,53.70 L592.15,54.55 L593.35,55.40 L594.54,56.25 L595.73,57.10 L596.92,57.95 L598.11,58.80 L599.30,59.65 L600.49,60.50 L601.69,61.35 L602.88,62.20 L604.07,63.05 L605.26,63.90 L606.45,64.75 L607.64,65.59 L608.83,66.44 L610.03,67.28 L611.22,68.13 L612.41,68.97 L613.60,69.81 L614.79,70.64 L615.98,71.48 L617.17,72.31 L618.36,73.15 L619.56,73.97 L620.75,74.80 L621.94,75.62 L623.13,76.45 L624.32,77.27 L625.51,78.09 L626.70,78.93 L627.90,79.76 L629.09,80.60 L630.28,81.43 L631.47,82.26 L632.66,83.07 L633.85,83.88 L635.04,84.68 L636.24,85.46 L637.43,86.22 L638.62,86.97 L639.81,87.69 L641.00,88.39 L642.19,89.08 L643.38,89.77 L644.57,90.45 L645.77,91.12 L646.96,91.79 L648.15,92.44 L649.34,93.09 L650.53,93.74 L651.72,94.37 L652.91,95.00 L654.11,95.63 L655.30,96.24 L656.49,96.85 L657.68,97.45 L658.87,98.05 L660.06,98.64 L661.25,99.22 L662.45,99.79 L663.64,100.36 L664.83,100.92 L666.02,101.48 L667.21,102.03 L668.40,102.57 L669.59,103.11 L670.78,103.64 L671.98,104.16 L673.17,104.68 L674.36,105.19 L675.55,105.69 L676.74,106.19 L677.93,106.69 L679.12,107.17 L680.32,107.66 L681.51,108.13 L682.70,108.61 L683.89,109.07 L685.08,109.53 L686.27,109.99 L687.46,110.45 L688.66,110.90 L689.85,111.34 L691.04,111.78 L692.23,112.22 L693.42,112.66 L694.61,113.09 L695.80,113.51 L696.99,113.94 L698.19,114.36 L699.38,114.78 L700.57,115.20 L701.76,115.61 L702.95,116.01 L704.14,116.40 L705.33,116.79 L706.53,117.18 L707.72,117.55 L708.91,117.93 L710.10,118.30 L712.30,123.40 L714.00,128.80 L719.50,130.60 L722.20,143.20 L724.90,144.20 L726.70,156.80 L731.20,159.50" fill="none" stroke="#72bf3c" stroke-width="1.3" stroke-linejoin="round" stroke-linecap="round"/>
<circle cx="623.50" cy="76.80" r="1.5" fill="#ff4040"/>
<circle cx="670.70" cy="104.10" r="1.5" fill="#ff4040"/>
<circle cx="707.80" cy="117.80" r="1.5" fill="#4848ff"/>
<circle cx="710.10" cy="118.50" r="1.5" fill="#4848ff"/>
<rect x="544.50" y="12.50" width="189.00" height="150.00" fill="none" stroke="#808080" stroke-width="1"/>
<line x1="568.12" y1="162.50" x2="568.12" y2="160.30" stroke="#808080" stroke-width="1"/>
<line x1="591.75" y1="162.50" x2="591.75" y2="160.30" stroke="#808080" stroke-width="1"/>
<line x1="615.38" y1="162.50" x2="615.38" y2="160.30" stroke="#808080" stroke-width="1"/>
<line x1="639.00" y1="162.50" x2="639.00" y2="160.30" stroke="#808080" stroke-width="1"/>
<line x1="662.62" y1="162.50" x2="662.62" y2="160.30" stroke="#808080" stroke-width="1"/>
<line x1="686.25" y1="162.50" x2="686.25" y2="160.30" stroke="#808080" stroke-width="1"/>
<line x1="709.88" y1="162.50" x2="709.88" y2="160.30" stroke="#808080" stroke-width="1"/>
<line x1="544.50" y1="132.50" x2="546.70" y2="132.50" stroke="#808080" stroke-width="1"/>
<line x1="544.50" y1="102.50" x2="546.70" y2="102.50" stroke="#808080" stroke-width="1"/>
<line x1="544.50" y1="72.50" x2="546.70" y2="72.50" stroke="#808080" stroke-width="1"/>
<line x1="544.50" y1="42.50" x2="546.70" y2="42.50" stroke="#808080" stroke-width="1"/>
<text x="544.70" y="175.50" text-anchor="middle" font-size="12.5">0</text>
<text x="568.33" y="175.50" text-anchor="middle" font-size="12.5">1</text>
<text x="591.95" y="175.50" text-anchor="middle" font-size="12.5">2</text>
<text x="615.58" y="175.50" text-anchor="middle" font-size="12.5">3</text>
<text x="639.20" y="175.50" text-anchor="middle" font-size="12.5">4</text>
<text x="662.83" y="175.50" text-anchor="middle" font-size="12.5">5</text>
<text x="686.45" y="175.50" text-anchor="middle" font-size="12.5">6</text>
<text x="710.08" y="175.50" text-anchor="middle" font-size="12.5">7</text>
<text x="733.70" y="175.50" text-anchor="middle" font-size="12.5">8</text>
<text x="538.20" y="134.50" text-anchor="end" font-size="12.5">0.1</text>
<text x="538.20" y="104.50" text-anchor="end" font-size="12.5">0.2</text>
<text x="538.20" y="74.50" text-anchor="end" font-size="12.5">0.3</text>
<text x="538.20" y="44.50" text-anchor="end" font-size="12.5">0.4</text>
<text x="538.20" y="14.50" text-anchor="end" font-size="12.5">0.5</text>
<line x1="584.60" y1="22.50" x2="603.20" y2="22.50" stroke="#cc2250" stroke-width="1.2"/>
<text x="604.80" y="24.90" font-size="9.8">Random Attacks</text>
<line x1="584.60" y1="31.50" x2="603.20" y2="31.50" stroke="#f7b531" stroke-width="1.2"/>
<text x="604.80" y="33.90" font-size="9.8">Maximum-degree Attacks</text>
<line x1="584.60" y1="40.50" x2="603.20" y2="40.50" stroke="#72bf3c" stroke-width="1.2"/>
<text x="604.80" y="42.90" font-size="9.8">Maximum-betweenness Attacks</text>
<line x1="544.50" y1="76.90" x2="555.76" y2="73.03" stroke="#111" stroke-width="1.2"/>
<polygon points="560.20,71.50 555.75,75.46 554.25,71.11" fill="#111"/>
<text x="561.20" y="73.50" text-anchor="start" font-size="12.3">0.290</text>
<line x1="544.50" y1="104.20" x2="555.71" y2="100.77" stroke="#111" stroke-width="1.2"/>
<polygon points="560.20,99.40 555.61,103.21 554.27,98.81" fill="#111"/>
<text x="561.20" y="101.00" text-anchor="start" font-size="12.3">0.193</text>
<line x1="544.50" y1="117.70" x2="555.83" y2="113.23" stroke="#111" stroke-width="1.2"/>
<polygon points="560.20,111.50 555.93,115.66 554.24,111.38" fill="#111"/>
<text x="561.20" y="114.50" text-anchor="start" font-size="12.3">0.148</text>
<line x1="544.50" y1="118.60" x2="555.79" y2="122.77" stroke="#111" stroke-width="1.2"/>
<polygon points="560.20,124.40 554.24,124.65 555.84,120.34" fill="#111"/>
<text x="561.20" y="127.40" text-anchor="start" font-size="12.3">0.141</text>
<text x="622.40" y="157.80" text-anchor="end" font-size="12.3">332</text>
<text x="669.60" y="157.80" text-anchor="end" font-size="12.3">536</text>
<text x="703.50" y="157.80" text-anchor="end" font-size="12.3">692</text>
<text x="712.50" y="157.80" text-anchor="start" font-size="12.3">706</text>
<text transform="translate(513.10,88.50) rotate(-90)" text-anchor="middle" font-size="12.5">Average residual energy / J</text>
<text x="622.30" y="187.50" font-size="12.3">Rounds &#160;(×10²)</text>
<text x="550.80" y="201.00" font-size="12.5">(c) Average residual energy at <tspan font-style="italic">e</tspan> = 15</text>
<line x1="47.50" y1="298.00" x2="142.30" y2="298.00" stroke="#ff8a8a" stroke-width="1"/>
<line x1="47.50" y1="298.00" x2="142.30" y2="298.00" stroke="#ff4040" stroke-width="1" stroke-dasharray="3 2 1 2" opacity="0.5"/>
<line x1="142.30" y1="298.00" x2="142.30" y2="370.50" stroke="#ff8a8a" stroke-width="1"/>
<line x1="142.30" y1="298.00" x2="142.30" y2="370.50" stroke="#ff4040" stroke-width="1" stroke-dasharray="3 2 1 2" opacity="0.5"/>
<line x1="47.50" y1="326.30" x2="214.90" y2="326.30" stroke="#9a9aff" stroke-width="1"/>
<line x1="47.50" y1="326.30" x2="214.90" y2="326.30" stroke="#4848ff" stroke-width="1" stroke-dasharray="3 2 1 2" opacity="0.5"/>
<line x1="214.90" y1="326.30" x2="214.90" y2="370.50" stroke="#9a9aff" stroke-width="1"/>
<line x1="214.90" y1="326.30" x2="214.90" y2="370.50" stroke="#4848ff" stroke-width="1" stroke-dasharray="3 2 1 2" opacity="0.5"/>
<line x1="47.50" y1="330.20" x2="210.10" y2="330.20" stroke="#9a9aff" stroke-width="1"/>
<line x1="47.50" y1="330.20" x2="210.10" y2="330.20" stroke="#4848ff" stroke-width="1" stroke-dasharray="3 2 1 2" opacity="0.5"/>
<line x1="210.10" y1="330.20" x2="210.10" y2="370.50" stroke="#9a9aff" stroke-width="1"/>
<line x1="210.10" y1="330.20" x2="210.10" y2="370.50" stroke="#4848ff" stroke-width="1" stroke-dasharray="3 2 1 2" opacity="0.5"/>
<line x1="47.50" y1="325.00" x2="203.80" y2="325.00" stroke="#ff8a8a" stroke-width="1"/>
<line x1="47.50" y1="325.00" x2="203.80" y2="325.00" stroke="#ff4040" stroke-width="1" stroke-dasharray="3 2 1 2" opacity="0.5"/>
<line x1="203.80" y1="325.00" x2="203.80" y2="370.50" stroke="#ff8a8a" stroke-width="1"/>
<line x1="203.80" y1="325.00" x2="203.80" y2="370.50" stroke="#ff4040" stroke-width="1" stroke-dasharray="3 2 1 2" opacity="0.5"/>
<path d="M47.50,225.90 L48.70,226.73 L49.90,227.57 L51.10,228.40 L52.30,229.24 L53.50,230.08 L54.70,230.91 L55.90,231.75 L57.09,232.59 L58.29,233.43 L59.49,234.27 L60.69,235.11 L61.89,235.95 L63.09,236.79 L64.29,237.63 L65.49,238.47 L66.69,239.31 L67.89,240.16 L69.09,241.00 L70.29,241.84 L71.49,242.69 L72.69,243.53 L73.89,244.38 L75.08,245.22 L76.28,246.07 L77.48,246.92 L78.68,247.76 L79.88,248.61 L81.08,249.46 L82.28,250.31 L83.48,251.16 L84.68,252.01 L85.88,252.86 L87.08,253.71 L88.28,254.56 L89.48,255.41 L90.68,256.26 L91.88,257.11 L93.07,257.97 L94.27,258.82 L95.47,259.67 L96.67,260.53 L97.87,261.38 L99.07,262.24 L100.27,263.09 L101.47,263.95 L102.67,264.82 L103.87,265.68 L105.07,266.56 L106.27,267.43 L107.47,268.31 L108.67,269.19 L109.86,270.07 L111.06,270.96 L112.26,271.85 L113.46,272.73 L114.66,273.62 L115.86,274.51 L117.06,275.40 L118.26,276.29 L119.46,277.18 L120.66,278.07 L121.86,278.95 L123.06,279.83 L124.26,280.72 L125.46,281.59 L126.66,282.47 L127.85,283.34 L129.05,284.21 L130.25,285.07 L131.45,285.93 L132.65,286.79 L133.85,287.64 L135.05,288.48 L136.25,289.32 L137.45,290.15 L138.65,290.97 L139.85,291.79 L141.05,292.60 L142.25,293.40 L143.45,294.19 L144.65,294.99 L145.84,295.77 L147.04,296.54 L148.24,297.28 L149.44,297.99 L150.64,298.65 L151.84,299.29 L153.04,299.91 L154.24,300.50 L155.44,301.08 L156.64,301.65 L157.84,302.20 L159.04,302.74 L160.24,303.28 L161.44,303.82 L162.64,304.35 L163.83,304.89 L165.03,305.44 L166.23,305.99 L167.43,306.55 L168.63,307.12 L169.83,307.72 L171.03,308.33 L172.23,308.96 L173.43,309.60 L174.63,310.26 L175.83,310.93 L177.03,311.60 L178.23,312.28 L179.43,312.96 L180.62,313.64 L181.82,314.31 L183.02,314.97 L184.22,315.62 L185.42,316.26 L186.62,316.88 L187.82,317.48 L189.02,318.05 L190.22,318.60 L191.42,319.13 L192.62,319.65 L193.82,320.15 L195.02,320.65 L196.22,321.13 L197.42,321.61 L198.61,322.07 L199.81,322.52 L201.01,322.96 L202.21,323.38 L203.41,323.80 L204.61,324.20 L205.81,324.58 L207.01,324.94 L208.21,325.29 L209.41,325.63 L210.61,325.97 L211.81,326.32 L213.01,326.67 L214.21,327.04 L215.41,327.44 L216.60,327.84 L217.80,328.26 L219.00,328.69 L220.20,329.14 L221.40,329.59 L222.60,330.05 L223.80,330.52 L225.00,331.00 L227.50,332.20 L229.00,331.50 L231.00,329.80 L232.50,328.80" fill="none" stroke="#cc2250" stroke-width="1.3" stroke-linejoin="round" stroke-linecap="round"/>
<path d="M47.50,229.50 L48.70,230.35 L49.89,231.21 L51.09,232.06 L52.28,232.92 L53.48,233.77 L54.67,234.63 L55.87,235.49 L57.06,236.34 L58.26,237.20 L59.46,238.05 L60.65,238.91 L61.85,239.76 L63.04,240.62 L64.24,241.47 L65.43,242.33 L66.63,243.18 L67.83,244.04 L69.02,244.90 L70.22,245.75 L71.41,246.61 L72.61,247.46 L73.80,248.32 L75.00,249.17 L76.19,250.03 L77.39,250.89 L78.59,251.74 L79.78,252.60 L80.98,253.45 L82.17,254.31 L83.37,255.17 L84.56,256.02 L85.76,256.88 L86.95,257.74 L88.15,258.59 L89.35,259.45 L90.54,260.31 L91.74,261.16 L92.93,262.02 L94.13,262.88 L95.32,263.73 L96.52,264.59 L97.71,265.45 L98.91,266.31 L100.11,267.17 L101.30,268.03 L102.50,268.89 L103.69,269.75 L104.89,270.61 L106.08,271.47 L107.28,272.33 L108.47,273.19 L109.67,274.06 L110.87,274.92 L112.06,275.78 L113.26,276.64 L114.45,277.51 L115.65,278.37 L116.84,279.23 L118.04,280.09 L119.24,280.96 L120.43,281.82 L121.63,282.68 L122.82,283.54 L124.02,284.40 L125.21,285.26 L126.41,286.11 L127.60,286.97 L128.80,287.83 L130.00,288.69 L131.19,289.54 L132.39,290.39 L133.58,291.25 L134.78,292.10 L135.97,292.95 L137.17,293.80 L138.36,294.65 L139.56,295.49 L140.76,296.34 L141.95,297.18 L143.15,298.03 L144.34,298.90 L145.54,299.78 L146.73,300.64 L147.93,301.47 L149.12,302.26 L150.32,302.99 L151.52,303.68 L152.71,304.35 L153.91,304.99 L155.10,305.61 L156.30,306.22 L157.49,306.81 L158.69,307.39 L159.89,307.96 L161.08,308.52 L162.28,309.08 L163.47,309.63 L164.67,310.19 L165.86,310.74 L167.06,311.30 L168.25,311.86 L169.45,312.43 L170.65,313.02 L171.84,313.61 L173.04,314.20 L174.23,314.80 L175.43,315.41 L176.62,316.01 L177.82,316.61 L179.01,317.21 L180.21,317.81 L181.41,318.40 L182.60,318.98 L183.80,319.55 L184.99,320.11 L186.19,320.66 L187.38,321.19 L188.58,321.71 L189.78,322.21 L190.97,322.68 L192.17,323.13 L193.36,323.55 L194.56,323.95 L195.75,324.34 L196.95,324.73 L198.14,325.12 L199.34,325.52 L200.54,325.94 L201.73,326.38 L202.93,326.85 L204.12,327.35 L205.32,327.91 L206.51,328.51 L207.71,329.15 L208.90,329.82 L210.10,330.50 L211.10,334.30 L212.70,334.30 L213.30,346.20 L214.90,346.80 L215.50,350.00 L216.50,350.60 L217.60,361.40 L218.20,366.30 L223.00,366.80" fill="none" stroke="#f7b531" stroke-width="1.3" stroke-linejoin="round" stroke-linecap="round"/>
<path d="M47.50,229.50 L48.70,230.35 L49.89,231.21 L51.09,232.07 L52.28,232.92 L53.48,233.78 L54.67,234.63 L55.87,235.49 L57.07,236.34 L58.26,237.20 L59.46,238.05 L60.65,238.91 L61.85,239.76 L63.04,240.62 L64.24,241.47 L65.44,242.33 L66.63,243.19 L67.83,244.04 L69.02,244.90 L70.22,245.75 L71.41,246.61 L72.61,247.46 L73.81,248.32 L75.00,249.18 L76.20,250.03 L77.39,250.89 L78.59,251.74 L79.78,252.60 L80.98,253.46 L82.18,254.31 L83.37,255.17 L84.57,256.03 L85.76,256.88 L86.96,257.74 L88.15,258.60 L89.35,259.45 L90.55,260.31 L91.74,261.17 L92.94,262.02 L94.13,262.88 L95.33,263.74 L96.52,264.60 L97.72,265.46 L98.92,266.33 L100.11,267.20 L101.31,268.08 L102.50,268.96 L103.70,269.84 L104.89,270.73 L106.09,271.62 L107.29,272.50 L108.48,273.39 L109.68,274.28 L110.87,275.17 L112.07,276.07 L113.26,276.96 L114.46,277.85 L115.66,278.73 L116.85,279.62 L118.05,280.51 L119.24,281.39 L120.44,282.27 L121.63,283.15 L122.83,284.02 L124.03,284.89 L125.22,285.76 L126.42,286.62 L127.61,287.47 L128.81,288.32 L130.00,289.17 L131.20,290.01 L132.40,290.84 L133.59,291.67 L134.79,292.48 L135.98,293.30 L137.18,294.10 L138.37,294.89 L139.57,295.68 L140.77,296.45 L141.96,297.22 L143.16,297.98 L144.35,298.73 L145.55,299.48 L146.74,300.20 L147.94,300.89 L149.14,301.55 L150.33,302.17 L151.53,302.75 L152.72,303.31 L153.92,303.86 L155.11,304.38 L156.31,304.89 L157.51,305.39 L158.70,305.88 L159.90,306.36 L161.09,306.83 L162.29,307.30 L163.48,307.77 L164.68,308.24 L165.88,308.71 L167.07,309.19 L168.27,309.68 L169.46,310.17 L170.66,310.68 L171.85,311.19 L173.05,311.71 L174.25,312.23 L175.44,312.75 L176.64,313.28 L177.83,313.80 L179.03,314.32 L180.22,314.85 L181.42,315.37 L182.62,315.89 L183.81,316.40 L185.01,316.92 L186.20,317.43 L187.40,317.93 L188.59,318.43 L189.79,318.91 L190.99,319.41 L192.18,319.91 L193.38,320.43 L194.57,320.95 L195.77,321.47 L196.96,321.98 L198.16,322.47 L199.36,322.94 L200.55,323.37 L201.75,323.77 L202.94,324.13 L204.14,324.43 L205.33,324.71 L206.53,324.98 L207.73,325.23 L208.92,325.46 L210.12,325.68 L211.31,325.87 L212.51,326.04 L213.70,326.19 L214.90,326.30 L215.50,330.00 L216.00,338.70 L217.60,348.90 L220.30,350.00 L220.90,352.70 L223.00,353.30 L225.20,359.20 L226.30,366.30 L227.40,366.80" fill="none" stroke="#72bf3c" stroke-width="1.3" stroke-linejoin="round" stroke-linecap="round"/>
<circle cx="142.30" cy="298.00" r="1.5" fill="#ff4040"/>
<circle cx="203.80" cy="324.80" r="1.5" fill="#ff4040"/>
<circle cx="210.10" cy="330.60" r="1.5" fill="#4848ff"/>
<circle cx="214.90" cy="326.20" r="1.5" fill="#4848ff"/>
<rect x="47.50" y="220.50" width="188.00" height="150.00" fill="none" stroke="#808080" stroke-width="1"/>
<line x1="71.00" y1="370.50" x2="71.00" y2="368.30" stroke="#808080" stroke-width="1"/>
<line x1="94.50" y1="370.50" x2="94.50" y2="368.30" stroke="#808080" stroke-width="1"/>
<line x1="118.00" y1="370.50" x2="118.00" y2="368.30" stroke="#808080" stroke-width="1"/>
<line x1="141.50" y1="370.50" x2="141.50" y2="368.30" stroke="#808080" stroke-width="1"/>
<line x1="165.00" y1="370.50" x2="165.00" y2="368.30" stroke="#808080" stroke-width="1"/>
<line x1="188.50" y1="370.50" x2="188.50" y2="368.30" stroke="#808080" stroke-width="1"/>
<line x1="212.00" y1="370.50" x2="212.00" y2="368.30" stroke="#808080" stroke-width="1"/>
<line x1="47.50" y1="340.50" x2="49.70" y2="340.50" stroke="#808080" stroke-width="1"/>
<line x1="47.50" y1="310.50" x2="49.70" y2="310.50" stroke="#808080" stroke-width="1"/>
<line x1="47.50" y1="280.50" x2="49.70" y2="280.50" stroke="#808080" stroke-width="1"/>
<line x1="47.50" y1="250.50" x2="49.70" y2="250.50" stroke="#808080" stroke-width="1"/>
<text x="47.70" y="383.70" text-anchor="middle" font-size="12.5">0</text>
<text x="71.20" y="383.70" text-anchor="middle" font-size="12.5">1</text>
<text x="94.70" y="383.70" text-anchor="middle" font-size="12.5">2</text>
<text x="118.20" y="383.70" text-anchor="middle" font-size="12.5">3</text>
<text x="141.70" y="383.70" text-anchor="middle" font-size="12.5">4</text>
<text x="165.20" y="383.70" text-anchor="middle" font-size="12.5">5</text>
<text x="188.70" y="383.70" text-anchor="middle" font-size="12.5">6</text>
<text x="212.20" y="383.70" text-anchor="middle" font-size="12.5">7</text>
<text x="235.70" y="383.70" text-anchor="middle" font-size="12.5">8</text>
<text x="41.20" y="342.50" text-anchor="end" font-size="12.5">0.1</text>
<text x="41.20" y="312.50" text-anchor="end" font-size="12.5">0.2</text>
<text x="41.20" y="282.50" text-anchor="end" font-size="12.5">0.3</text>
<text x="41.20" y="252.50" text-anchor="end" font-size="12.5">0.4</text>
<text x="41.20" y="222.50" text-anchor="end" font-size="12.5">0.5</text>
<line x1="87.60" y1="231.30" x2="106.20" y2="231.30" stroke="#cc2250" stroke-width="1.2"/>
<text x="107.80" y="233.70" font-size="9.8">Random Attacks</text>
<line x1="87.60" y1="240.00" x2="106.20" y2="240.00" stroke="#f7b531" stroke-width="1.2"/>
<text x="107.80" y="242.40" font-size="9.8">Maximum-degree Attacks</text>
<line x1="87.60" y1="248.70" x2="106.20" y2="248.70" stroke="#72bf3c" stroke-width="1.2"/>
<text x="107.80" y="251.10" font-size="9.8">Maximum-betweenness Attacks</text>
<line x1="47.20" y1="298.00" x2="58.16" y2="294.16" stroke="#111" stroke-width="1.2"/>
<polygon points="62.60,292.60 58.17,296.59 56.65,292.25" fill="#111"/>
<text x="63.60" y="294.00" text-anchor="start" font-size="12.3">0.243</text>
<line x1="47.20" y1="325.20" x2="58.34" y2="321.49" stroke="#111" stroke-width="1.2"/>
<polygon points="62.80,320.00 58.31,323.92 56.85,319.56" fill="#111"/>
<text x="63.80" y="320.90" text-anchor="start" font-size="12.3">0.152</text>
<line x1="47.20" y1="325.80" x2="58.70" y2="332.21" stroke="#111" stroke-width="1.2"/>
<polygon points="62.80,334.50 56.88,333.83 59.12,329.81" fill="#111"/>
<text x="63.80" y="340.00" text-anchor="start" font-size="12.3">0.148</text>
<line x1="47.20" y1="325.80" x2="59.80" y2="340.98" stroke="#111" stroke-width="1.2"/>
<polygon points="62.80,344.60 57.52,341.84 61.06,338.90" fill="#111"/>
<text x="63.80" y="350.50" text-anchor="start" font-size="12.3">0.135</text>
<text x="141.00" y="366.20" text-anchor="end" font-size="12.3">410</text>
<text x="199.80" y="353.80" text-anchor="end" font-size="12.3">689</text>
<text x="199.80" y="366.80" text-anchor="end" font-size="12.3">665</text>
<text x="216.80" y="367.20" text-anchor="start" font-size="12.3">712</text>
<line x1="210.50" y1="369.50" x2="202.33" y2="358.03" stroke="#111" stroke-width="1.2"/>
<polygon points="199.60,354.20 204.66,357.34 200.92,360.01" fill="#111"/>
<text transform="translate(16.10,296.30) rotate(-90)" text-anchor="middle" font-size="12.5">Average residual energy / J</text>
<text x="121.80" y="396.30" font-size="12.3">Rounds (×10²)</text>
<text x="49.40" y="409.40" font-size="12.5">(d) Average residual energy at <tspan font-style="italic">e</tspan> = 20</text>
<line x1="295.50" y1="307.30" x2="399.30" y2="307.30" stroke="#ff8a8a" stroke-width="1"/>
<line x1="295.50" y1="307.30" x2="399.30" y2="307.30" stroke="#ff4040" stroke-width="1" stroke-dasharray="3 2 1 2" opacity="0.5"/>
<line x1="399.30" y1="307.30" x2="399.30" y2="370.50" stroke="#ff8a8a" stroke-width="1"/>
<line x1="399.30" y1="307.30" x2="399.30" y2="370.50" stroke="#ff4040" stroke-width="1" stroke-dasharray="3 2 1 2" opacity="0.5"/>
<line x1="295.50" y1="327.50" x2="446.80" y2="327.50" stroke="#9a9aff" stroke-width="1"/>
<line x1="295.50" y1="327.50" x2="446.80" y2="327.50" stroke="#4848ff" stroke-width="1" stroke-dasharray="3 2 1 2" opacity="0.5"/>
<line x1="446.80" y1="327.50" x2="446.80" y2="370.50" stroke="#9a9aff" stroke-width="1"/>
<line x1="446.80" y1="327.50" x2="446.80" y2="370.50" stroke="#4848ff" stroke-width="1" stroke-dasharray="3 2 1 2" opacity="0.5"/>
<line x1="295.50" y1="326.60" x2="440.30" y2="326.60" stroke="#9a9aff" stroke-width="1"/>
<line x1="295.50" y1="326.60" x2="440.30" y2="326.60" stroke="#4848ff" stroke-width="1" stroke-dasharray="3 2 1 2" opacity="0.5"/>
<line x1="440.30" y1="326.60" x2="440.30" y2="370.50" stroke="#9a9aff" stroke-width="1"/>
<line x1="440.30" y1="326.60" x2="440.30" y2="370.50" stroke="#4848ff" stroke-width="1" stroke-dasharray="3 2 1 2" opacity="0.5"/>
<path d="M296.50,225.90 L297.70,226.87 L298.90,227.84 L300.10,228.82 L301.29,229.79 L302.49,230.76 L303.69,231.73 L304.89,232.70 L306.09,233.67 L307.29,234.64 L308.48,235.61 L309.68,236.58 L310.88,237.54 L312.08,238.51 L313.28,239.48 L314.48,240.45 L315.68,241.41 L316.87,242.38 L318.07,243.35 L319.27,244.31 L320.47,245.28 L321.67,246.25 L322.87,247.21 L324.06,248.18 L325.26,249.14 L326.46,250.11 L327.66,251.07 L328.86,252.03 L330.06,253.00 L331.26,253.96 L332.45,254.93 L333.65,255.89 L334.85,256.85 L336.05,257.81 L337.25,258.78 L338.45,259.74 L339.64,260.70 L340.84,261.66 L342.04,262.62 L343.24,263.58 L344.44,264.54 L345.64,265.50 L346.84,266.46 L348.03,267.42 L349.23,268.38 L350.43,269.34 L351.63,270.30 L352.83,271.26 L354.03,272.23 L355.22,273.19 L356.42,274.16 L357.62,275.13 L358.82,276.10 L360.02,277.08 L361.22,278.05 L362.42,279.02 L363.61,279.99 L364.81,280.96 L366.01,281.93 L367.21,282.89 L368.41,283.86 L369.61,284.81 L370.80,285.77 L372.00,286.72 L373.20,287.66 L374.40,288.60 L375.60,289.54 L376.80,290.46 L378.00,291.38 L379.19,292.29 L380.39,293.20 L381.59,294.10 L382.79,295.02 L383.99,295.94 L385.19,296.86 L386.38,297.78 L387.58,298.69 L388.78,299.60 L389.98,300.49 L391.18,301.37 L392.38,302.24 L393.58,303.08 L394.77,303.90 L395.97,304.70 L397.17,305.46 L398.37,306.20 L399.57,306.90 L400.77,307.57 L401.96,308.21 L403.16,308.84 L404.36,309.45 L405.56,310.04 L406.76,310.61 L407.96,311.17 L409.16,311.72 L410.35,312.27 L411.55,312.80 L412.75,313.34 L413.95,313.87 L415.15,314.40 L416.35,314.93 L417.54,315.47 L418.74,316.02 L419.94,316.57 L421.14,317.13 L422.34,317.70 L423.54,318.26 L424.74,318.82 L425.93,319.39 L427.13,319.95 L428.33,320.51 L429.53,321.07 L430.73,321.63 L431.93,322.19 L433.12,322.74 L434.32,323.28 L435.52,323.83 L436.72,324.36 L437.92,324.89 L439.12,325.42 L440.32,325.93 L441.51,326.41 L442.71,326.86 L443.91,327.31 L445.11,327.80 L446.31,328.35 L447.51,328.99 L448.70,329.74 L449.90,330.59 L451.10,331.52 L452.30,332.50 L453.20,335.20" fill="none" stroke="#cc2250" stroke-width="1.3" stroke-linejoin="round" stroke-linecap="round"/>
<path d="M296.50,229.50 L297.70,230.44 L298.90,231.39 L300.10,232.33 L301.29,233.27 L302.49,234.22 L303.69,235.16 L304.89,236.11 L306.09,237.05 L307.29,238.00 L308.48,238.95 L309.68,239.89 L310.88,240.84 L312.08,241.79 L313.28,242.74 L314.48,243.69 L315.67,244.64 L316.87,245.59 L318.07,246.54 L319.27,247.49 L320.47,248.44 L321.67,249.39 L322.86,250.34 L324.06,251.29 L325.26,252.25 L326.46,253.20 L327.66,254.15 L328.86,255.11 L330.05,256.06 L331.25,257.02 L332.45,257.97 L333.65,258.93 L334.85,259.88 L336.05,260.84 L337.24,261.80 L338.44,262.75 L339.64,263.71 L340.84,264.67 L342.04,265.62 L343.24,266.58 L344.43,267.54 L345.63,268.50 L346.83,269.46 L348.03,270.42 L349.23,271.38 L350.43,272.34 L351.62,273.30 L352.82,274.26 L354.02,275.23 L355.22,276.22 L356.42,277.21 L357.62,278.20 L358.81,279.20 L360.01,280.21 L361.21,281.21 L362.41,282.22 L363.61,283.22 L364.81,284.23 L366.00,285.23 L367.20,286.22 L368.40,287.21 L369.60,288.20 L370.80,289.17 L372.00,290.13 L373.19,291.08 L374.39,292.02 L375.59,292.95 L376.79,293.85 L377.99,294.75 L379.19,295.62 L380.38,296.47 L381.58,297.32 L382.78,298.15 L383.98,298.98 L385.18,299.80 L386.38,300.61 L387.57,301.41 L388.77,302.20 L389.97,302.98 L391.17,303.75 L392.37,304.50 L393.56,305.24 L394.76,305.96 L395.96,306.67 L397.16,307.36 L398.36,308.03 L399.56,308.68 L400.75,309.32 L401.95,309.94 L403.15,310.55 L404.35,311.14 L405.55,311.72 L406.75,312.30 L407.94,312.86 L409.14,313.41 L410.34,313.95 L411.54,314.49 L412.74,315.02 L413.94,315.55 L415.13,316.08 L416.33,316.60 L417.53,317.12 L418.73,317.64 L419.93,318.17 L421.13,318.69 L422.33,319.21 L423.52,319.73 L424.72,320.24 L425.92,320.75 L427.12,321.26 L428.32,321.76 L429.51,322.26 L430.71,322.76 L431.91,323.25 L433.11,323.74 L434.31,324.23 L435.51,324.71 L436.71,325.19 L437.90,325.66 L439.10,326.13 L440.30,326.60 L441.20,335.20 L444.20,337.00 L446.00,347.80 L448.70,348.70 L451.40,354.20 L453.20,361.40" fill="none" stroke="#f7b531" stroke-width="1.3" stroke-linejoin="round" stroke-linecap="round"/>
<path d="M296.50,229.50 L297.69,230.49 L298.89,231.49 L300.08,232.48 L301.27,233.46 L302.47,234.45 L303.66,235.43 L304.86,236.41 L306.05,237.39 L307.24,238.37 L308.44,239.34 L309.63,240.31 L310.82,241.28 L312.02,242.25 L313.21,243.22 L314.40,244.18 L315.60,245.14 L316.79,246.10 L317.99,247.06 L319.18,248.02 L320.37,248.97 L321.57,249.92 L322.76,250.87 L323.95,251.82 L325.15,252.77 L326.34,253.71 L327.53,254.65 L328.73,255.60 L329.92,256.53 L331.12,257.47 L332.31,258.41 L333.50,259.34 L334.70,260.27 L335.89,261.20 L337.08,262.13 L338.28,263.06 L339.47,263.98 L340.67,264.91 L341.86,265.83 L343.05,266.75 L344.25,267.67 L345.44,268.59 L346.63,269.50 L347.83,270.42 L349.02,271.33 L350.21,272.24 L351.41,273.15 L352.60,274.06 L353.80,274.96 L354.99,275.87 L356.18,276.77 L357.38,277.67 L358.57,278.57 L359.76,279.46 L360.96,280.35 L362.15,281.24 L363.34,282.13 L364.54,283.01 L365.73,283.90 L366.93,284.78 L368.12,285.65 L369.31,286.52 L370.51,287.39 L371.70,288.26 L372.89,289.13 L374.09,289.99 L375.28,290.84 L376.47,291.70 L377.67,292.55 L378.86,293.40 L380.06,294.24 L381.25,295.09 L382.44,295.95 L383.64,296.81 L384.83,297.68 L386.02,298.56 L387.22,299.42 L388.41,300.29 L389.60,301.14 L390.80,301.98 L391.99,302.81 L393.19,303.62 L394.38,304.40 L395.57,305.17 L396.77,305.90 L397.96,306.60 L399.15,307.27 L400.35,307.90 L401.54,308.51 L402.73,309.10 L403.93,309.66 L405.12,310.21 L406.32,310.74 L407.51,311.26 L408.70,311.77 L409.90,312.27 L411.09,312.77 L412.28,313.26 L413.48,313.75 L414.67,314.24 L415.87,314.73 L417.06,315.23 L418.25,315.74 L419.45,316.26 L420.64,316.78 L421.83,317.32 L423.03,317.86 L424.22,318.40 L425.41,318.94 L426.61,319.49 L427.80,320.03 L429.00,320.58 L430.19,321.12 L431.38,321.66 L432.58,322.19 L433.77,322.72 L434.96,323.25 L436.16,323.77 L437.35,324.28 L438.54,324.78 L439.74,325.27 L440.93,325.75 L442.13,326.22 L443.32,326.68 L444.51,327.12 L445.71,327.56 L446.90,328.00 L447.80,332.50 L452.30,337.00 L454.20,354.20 L459.60,355.00 L460.50,366.80" fill="none" stroke="#72bf3c" stroke-width="1.3" stroke-linejoin="round" stroke-linecap="round"/>
<circle cx="399.40" cy="307.30" r="1.5" fill="#ff4040"/>
<circle cx="440.30" cy="326.60" r="1.5" fill="#4848ff"/>
<circle cx="446.80" cy="328.00" r="1.5" fill="#4848ff"/>
<rect x="295.50" y="220.50" width="189.00" height="150.00" fill="none" stroke="#808080" stroke-width="1"/>
<line x1="316.50" y1="370.50" x2="316.50" y2="368.30" stroke="#808080" stroke-width="1"/>
<line x1="337.50" y1="370.50" x2="337.50" y2="368.30" stroke="#808080" stroke-width="1"/>
<line x1="358.50" y1="370.50" x2="358.50" y2="368.30" stroke="#808080" stroke-width="1"/>
<line x1="379.50" y1="370.50" x2="379.50" y2="368.30" stroke="#808080" stroke-width="1"/>
<line x1="400.50" y1="370.50" x2="400.50" y2="368.30" stroke="#808080" stroke-width="1"/>
<line x1="421.50" y1="370.50" x2="421.50" y2="368.30" stroke="#808080" stroke-width="1"/>
<line x1="442.50" y1="370.50" x2="442.50" y2="368.30" stroke="#808080" stroke-width="1"/>
<line x1="463.50" y1="370.50" x2="463.50" y2="368.30" stroke="#808080" stroke-width="1"/>
<line x1="295.50" y1="340.50" x2="297.70" y2="340.50" stroke="#808080" stroke-width="1"/>
<line x1="295.50" y1="310.50" x2="297.70" y2="310.50" stroke="#808080" stroke-width="1"/>
<line x1="295.50" y1="280.50" x2="297.70" y2="280.50" stroke="#808080" stroke-width="1"/>
<line x1="295.50" y1="250.50" x2="297.70" y2="250.50" stroke="#808080" stroke-width="1"/>
<text x="295.70" y="383.70" text-anchor="middle" font-size="12.5">0</text>
<text x="316.70" y="383.70" text-anchor="middle" font-size="12.5">1</text>
<text x="337.70" y="383.70" text-anchor="middle" font-size="12.5">2</text>
<text x="358.70" y="383.70" text-anchor="middle" font-size="12.5">3</text>
<text x="379.70" y="383.70" text-anchor="middle" font-size="12.5">4</text>
<text x="400.70" y="383.70" text-anchor="middle" font-size="12.5">5</text>
<text x="421.70" y="383.70" text-anchor="middle" font-size="12.5">6</text>
<text x="442.70" y="383.70" text-anchor="middle" font-size="12.5">7</text>
<text x="463.70" y="383.70" text-anchor="middle" font-size="12.5">8</text>
<text x="484.70" y="383.70" text-anchor="middle" font-size="12.5">9</text>
<text x="289.20" y="342.50" text-anchor="end" font-size="12.5">0.1</text>
<text x="289.20" y="312.50" text-anchor="end" font-size="12.5">0.2</text>
<text x="289.20" y="282.50" text-anchor="end" font-size="12.5">0.3</text>
<text x="289.20" y="252.50" text-anchor="end" font-size="12.5">0.4</text>
<text x="289.20" y="222.50" text-anchor="end" font-size="12.5">0.5</text>
<line x1="335.60" y1="231.30" x2="354.20" y2="231.30" stroke="#cc2250" stroke-width="1.2"/>
<text x="355.80" y="233.70" font-size="9.8">Random Attacks</text>
<line x1="335.60" y1="240.00" x2="354.20" y2="240.00" stroke="#f7b531" stroke-width="1.2"/>
<text x="355.80" y="242.40" font-size="9.8">Maximum-degree Attacks</text>
<line x1="335.60" y1="248.70" x2="354.20" y2="248.70" stroke="#72bf3c" stroke-width="1.2"/>
<text x="355.80" y="251.10" font-size="9.8">Maximum-betweenness Attacks</text>
<line x1="296.20" y1="307.20" x2="307.01" y2="303.88" stroke="#111" stroke-width="1.2"/>
<polygon points="311.50,302.50 306.92,306.31 305.57,301.92" fill="#111"/>
<text x="312.50" y="303.60" text-anchor="start" font-size="12.3">0.213</text>
<line x1="296.20" y1="326.70" x2="307.10" y2="322.64" stroke="#111" stroke-width="1.2"/>
<polygon points="311.50,321.00 307.15,325.08 305.54,320.76" fill="#111"/>
<text x="312.50" y="322.50" text-anchor="start" font-size="12.3">0.148</text>
<line x1="296.20" y1="326.70" x2="307.44" y2="333.24" stroke="#111" stroke-width="1.2"/>
<polygon points="311.50,335.60 305.59,334.82 307.90,330.85" fill="#111"/>
<text x="312.50" y="338.60" text-anchor="start" font-size="12.3">0.145</text>
<text x="397.30" y="367.40" text-anchor="end" font-size="12.3">494</text>
<text x="437.90" y="367.60" text-anchor="end" font-size="12.3">691</text>
<text x="448.70" y="367.60" text-anchor="start" font-size="12.3">712</text>
<text transform="translate(264.10,296.30) rotate(-90)" text-anchor="middle" font-size="12.5">Average residual energy / J</text>
<text x="372.30" y="396.30" font-size="12.3">Rounds (×10²)</text>
<text x="300.80" y="409.40" font-size="12.5">(e) Average residual energy at <tspan font-style="italic">e</tspan> = 25</text>
</svg></body></html>
